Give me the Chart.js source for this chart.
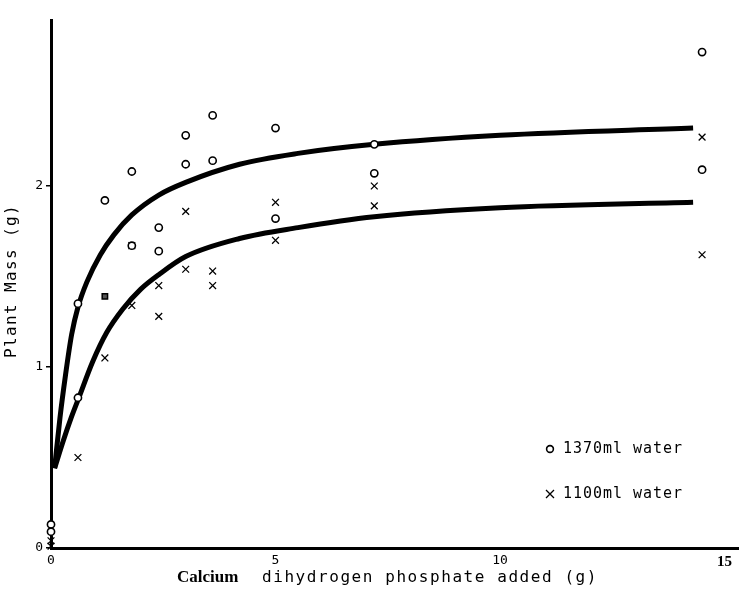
<!DOCTYPE html>
<html>
<head>
<meta charset="utf-8">
<script src="https://cdn.jsdelivr.net/npm/chart.js@4.4.1/dist/chart.umd.min.js"></script>
<style>
  body { margin: 0; background: #fff; }
  #wrap { width: 745px; height: 595px; }
</style>
</head>
<body>
<div id="wrap"><canvas id="massChart" width="745" height="595"></canvas></div>
<script>
// values
const water1370X = [0.6, 0.6, 1.2, 1.8, 1.8, 2.4, 2.4, 3.0, 3.0, 3.6, 3.6, 5.0, 5.0, 7.2, 7.2, 14.5, 14.5, 0, 0];
const water1370Y = [1.35, 0.83, 1.92, 2.08, 1.67, 1.77, 1.64, 2.28, 2.12, 2.39, 2.14, 2.32, 1.82, 2.23, 2.07, 2.74, 2.09, 0.13, 0.09];
const water1100X = [0.6, 1.2, 1.8, 1.8, 2.4, 2.4, 3.0, 3.0, 3.6, 3.6, 5.0, 5.0, 7.2, 7.2, 14.5, 14.5, 0, 0];
const water1100Y = [0.50, 1.05, 1.67, 1.34, 1.45, 1.28, 1.86, 1.54, 1.53, 1.45, 1.91, 1.70, 2.00, 1.89, 2.27, 1.62, 0.04, 0.01];
const overlapX = [1.2];
const overlapY = [1.39];

// fitted curves
const upperCurveX = [0.08, 0.2, 0.32, 0.46, 0.6, 0.8, 1.1, 1.4, 1.8, 2.4, 3.0, 4.2, 5.5, 7.2, 10, 14.3];
const upperCurveY = [0.44, 0.72, 0.95, 1.18, 1.33, 1.47, 1.62, 1.73, 1.84, 1.95, 2.02, 2.12, 2.18, 2.23, 2.28, 2.32];
const lowerCurveX = [0.08, 0.27, 0.45, 0.62, 0.93, 1.24, 1.6, 2.0, 2.4, 3.0, 4.2, 5.5, 7.2, 10, 14.3];
const lowerCurveY = [0.44, 0.59, 0.72, 0.83, 1.03, 1.19, 1.32, 1.43, 1.51, 1.61, 1.71, 1.77, 1.83, 1.88, 1.91];

const xTicks = [0, 5, 10, 15];
const yTicks = [0, 1, 2];
const seriesLabels = ['1370ml water', '1100ml water'];

const MONO = '"DejaVu Sans Mono", monospace';
const toPoints = (xs, ys) => xs.map((x, i) => ({ x: x, y: ys[i] }));

// draw monospace text with wide spacing like the plotter font
function spacedText(ctx, str, x, y, adv) {
    for (let i = 0; i < str.length; i++) {
        ctx.fillText(str[i], x + i * adv, y);
    }
}

const decorations = {
    id: 'decorations',
    afterDraw(chart) {
        const ctx = chart.ctx;
        ctx.save();
        ctx.fillStyle = '#000';
        ctx.strokeStyle = '#000';
        ctx.textBaseline = 'middle';
        ctx.textAlign = 'left';

        // legend in the lower right of the plot
        ctx.lineWidth = 1.6;
        ctx.beginPath();
        ctx.arc(550, 449, 3.4, 0, Math.PI * 2);
        ctx.stroke();
        ctx.lineWidth = 1.3;
        ctx.beginPath();
        ctx.moveTo(546, 490); ctx.lineTo(554, 498);
        ctx.moveTo(554, 490); ctx.lineTo(546, 498);
        ctx.stroke();
        ctx.font = '15px ' + MONO;
        spacedText(ctx, seriesLabels[0], 563, 449, 10);
        spacedText(ctx, seriesLabels[1], 563, 494, 10);

        // x axis title, first word in bold serif
        ctx.font = 'bold 17px "Liberation Serif", serif';
        ctx.fillText('Calcium', 177, 578);
        ctx.font = '16px ' + MONO;
        spacedText(ctx, 'dihydrogen phosphate added (g)', 262, 578, 11.2);

        // y axis title
        ctx.translate(12, 358);
        ctx.rotate(-Math.PI / 2);
        spacedText(ctx, 'Plant Mass (g)', 0, 0, 11);
        ctx.restore();
    }
};

const ctx = document.getElementById('massChart').getContext('2d');
const massChart = new Chart(ctx, {
    type: 'scatter',
    data: {
        datasets: [
            {
                label: seriesLabels[0],
                data: toPoints(water1370X, water1370Y),
                pointStyle: 'circle',
                pointRadius: 3.6,
                borderColor: '#000',
                backgroundColor: '#fff',
                borderWidth: 1.6,
                clip: false
            },
            {
                label: seriesLabels[1],
                data: toPoints(water1100X, water1100Y),
                pointStyle: 'crossRot',
                pointRadius: 4.8,
                borderColor: '#000',
                borderWidth: 1.3,
                clip: false
            },
            {
                label: 'overlap',
                data: toPoints(overlapX, overlapY),
                pointStyle: 'rect',
                pointRadius: 3.8,
                borderColor: '#000',
                backgroundColor: '#555',
                borderWidth: 1.5
            },
            {
                label: 'fit 1370ml',
                data: toPoints(upperCurveX, upperCurveY),
                showLine: true,
                pointRadius: 0,
                borderColor: '#000',
                borderWidth: 5,
                cubicInterpolationMode: 'monotone'
            },
            {
                label: 'fit 1100ml',
                data: toPoints(lowerCurveX, lowerCurveY),
                showLine: true,
                pointRadius: 0,
                borderColor: '#000',
                borderWidth: 5,
                cubicInterpolationMode: 'monotone'
            }
        ]
    },
    options: {
        responsive: false,
        animation: false,
        layout: { padding: { top: 20, right: 0, left: 0, bottom: 0 } },
        plugins: {
            legend: { display: false },
            tooltip: { enabled: false }
        },
        scales: {
            x: {
                type: 'linear',
                min: 0,
                max: 15.32,
                afterBuildTicks: s => { s.ticks = xTicks.map(v => ({ value: v })); },
                afterFit: s => { s.height = 47; },
                grid: { display: true, drawOnChartArea: false, drawTicks: false, color: 'transparent' },
                border: { display: true, color: '#000', width: 3 },
                ticks: {
                    color: '#000',
                    padding: 5,
                    maxRotation: 0,
                    font: c => (c.tick && c.tick.value === 15)
                        ? { family: '"Liberation Serif", serif', size: 15, weight: 'bold' }
                        : { family: MONO, size: 13 }
                }
            },
            y: {
                min: 0,
                max: 2.917,
                afterBuildTicks: s => { s.ticks = yTicks.map(v => ({ value: v })); },
                afterFit: s => { s.width = 51; },
                grid: { display: true, drawOnChartArea: false, tickLength: 5, color: '#000', lineWidth: 1.5 },
                border: { display: true, color: '#000', width: 3 },
                ticks: {
                    color: '#000',
                    padding: 3,
                    font: { family: MONO, size: 13 }
                }
            }
        }
    },
    plugins: [decorations]
});
</script>
</body>
</html>
